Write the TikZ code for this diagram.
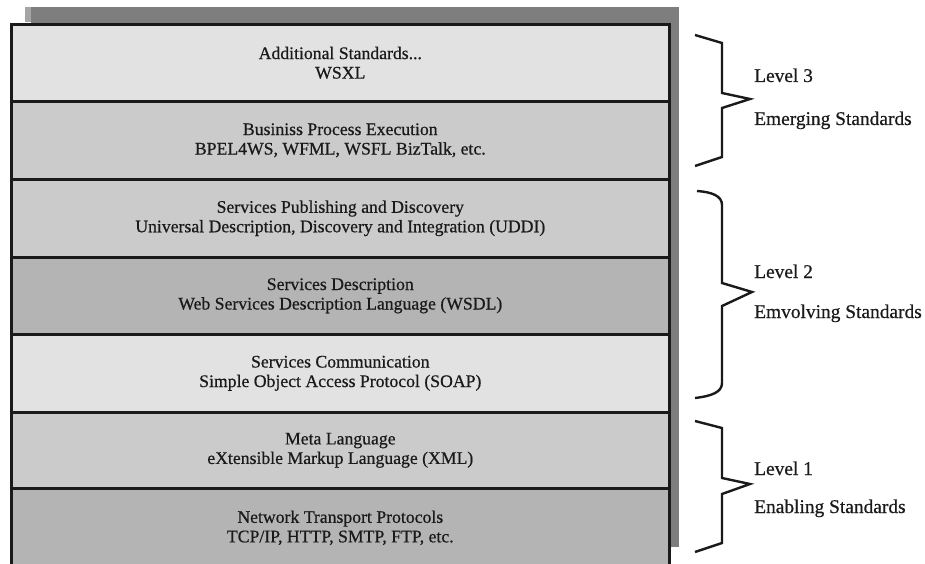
\documentclass[tikz,border=0pt]{standalone}
\usepackage{fontspec}
\setmainfont{Liberation Serif}
\newfontfamily\heavyserif[FakeBold=0.6]{Liberation Serif}
\definecolor{rowlight}{HTML}{E2E2E2}
\definecolor{rowmid}{HTML}{CBCBCB}
\definecolor{rowdark}{HTML}{B4B4B4}
\definecolor{shadowgray}{HTML}{7E7E7E}
\definecolor{ink}{HTML}{1A1A1A}
\begin{document}
\begin{tikzpicture}[x=1pt,y=-1pt,
  layer/.style={draw=ink, line width=2.6pt, minimum width=658pt, inner sep=0pt, anchor=north west,
    align=center, text=ink, font=\heavyserif\fontsize{17.7}{19.5}\selectfont},
  bracestyle/.style={draw=ink, line width=2.4pt, line join=miter},
  levellabel/.style={anchor=base west, inner sep=0pt, text=ink, font=\heavyserif\fontsize{19.4}{22}\selectfont}]
\useasboundingbox (0,0) rectangle (925,564);
% shadow
\fill[shadowgray!70] (25,7) rectangle (31,22);
\fill[shadowgray] (31,7) rectangle (679,547);
% layers
\node[layer, fill=rowlight, minimum height=77pt] (l1) at (10,23) {Additional Standards...\\WSXL};
\node[layer, fill=rowmid, minimum height=78pt] (l2) at (10,100) {Businiss Process Execution\\BPEL4WS, WFML, WSFL BizTalk, etc.};
\node[layer, fill=rowmid, minimum height=78pt] (l3) at (10,178) {Services Publishing and Discovery\\Universal Description, Discovery and Integration (UDDI)};
\node[layer, fill=rowdark, minimum height=77pt] (l4) at (10,256) {Services Description\\Web Services Description Language (WSDL)};
\node[layer, fill=rowlight, minimum height=78pt] (l5) at (10,333) {Services Communication\\Simple Object Access Protocol (SOAP)};
\node[layer, fill=rowmid, minimum height=76pt] (l6) at (10,411) {Meta Language\\eXtensible Markup Language (XML)};
\node[layer, fill=rowdark, minimum height=79pt] (l7) at (10,487) {Network Transport Protocols\\TCP/IP, HTTP, SMTP, FTP, etc.};
% braces
\coordinate (b3tip) at (750,99);
\coordinate (b2tip) at (752,292);
\coordinate (b1tip) at (750,484);
\draw[bracestyle] (695,35) -- (722,43) -- (722,93) -- (b3tip) -- (722,108) -- (722,157) -- (695,166);
\draw[bracestyle] (697,191) .. controls (712,192) and (722,196) .. (722,205) -- (722,283) -- (b2tip) -- (722,306) -- (722,383) .. controls (722,392) and (712,396) .. (695,398);
\draw[bracestyle] (695,421) -- (722,428) -- (722,478) -- (b1tip) -- (722,494) -- (722,543) -- (695,552);
% labels
\node[levellabel] (lv3a) at (754,82) {Level 3};
\node[levellabel] (lv3b) at (754,125) {Emerging Standards};
\node[levellabel] (lv2a) at (754,278) {Level 2};
\node[levellabel] (lv2b) at (754,318) {Emvolving Standards};
\node[levellabel] (lv1a) at (754,475) {Level 1};
\node[levellabel] (lv1b) at (754,513) {Enabling Standards};
\end{tikzpicture}
\end{document}
